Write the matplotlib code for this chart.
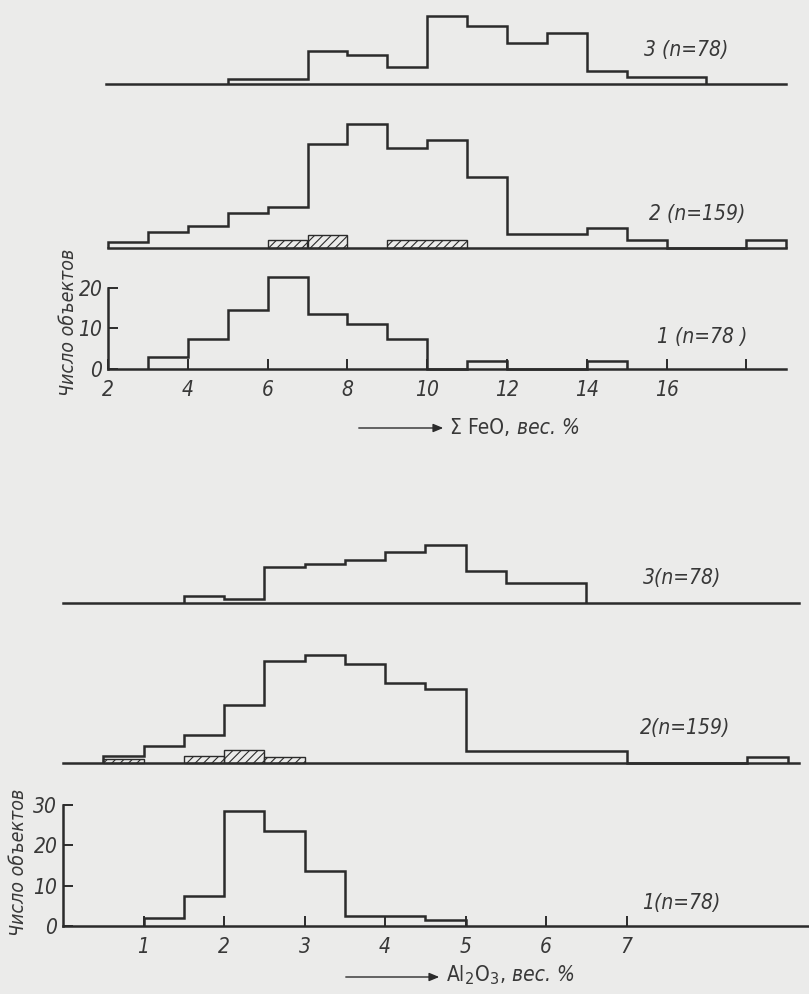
import matplotlib
matplotlib.use("Agg")
import matplotlib.pyplot as plt
from matplotlib import font_manager as fm
from matplotlib.patches import FancyArrowPatch
from matplotlib.text import Annotation

# ---------------- data ----------------
# Sum FeO, wt.%  (bin width 1)
feo_edges_1 = [3, 4, 5, 6, 7, 8, 9, 10, 11, 12, 13, 14, 15]
feo_counts_1 = [3, 7.5, 14.5, 22.5, 13.5, 11, 7.5, 0, 2, 0, 0, 2]

feo_edges_2 = [2, 3, 4, 5, 6, 7, 8, 9, 10, 11, 12, 13, 14, 15, 16, 17, 18, 19]
feo_counts_2 = [1.5, 4, 5.5, 8.5, 10, 25.5, 30.5, 24.5, 26.5, 17.5, 3.5, 3.5, 5, 2, 0, 0, 2]
feo_hatch_left_2 = [6, 7, 9]
feo_hatch_width_2 = [1, 1, 2]
feo_hatch_counts_2 = [2, 3.3, 2]

feo_edges_3 = [5, 6, 7, 8, 9, 10, 11, 12, 13, 14, 15, 16, 17]
feo_counts_3 = [1.2, 1.2, 8, 7, 4, 16.5, 14, 10, 12.5, 3, 1.5, 1.5]

feo_xticks = [2, 4, 6, 8, 10, 12, 14, 16, 18]
feo_xticklabels = ["2", "4", "6", "8", "10", "12", "14", "16", ""]
feo_yticks = [0, 10, 20]

# Al2O3, wt.%  (bin width 0.5)
al_edges_1 = [1, 1.5, 2, 2.5, 3, 3.5, 4, 4.5, 5]
al_counts_1 = [2, 7.5, 28.5, 23.5, 13.5, 2.5, 2.5, 1.5]

al_edges_2 = [0.5, 1, 1.5, 2, 2.5, 3, 3.5, 4, 4.5, 5, 5.5, 6, 6.5, 7, 7.5, 8, 8.5, 9]
al_counts_2 = [1.8, 4.3, 7, 14.6, 25.5, 27, 24.7, 20, 18.6, 3.1, 3.1, 3.1, 3.1, 0, 0, 0, 1.6]
al_hatch_left_2 = [0.5, 1.5, 2, 2.5]
al_hatch_width_2 = [0.5, 0.5, 0.5, 0.5]
al_hatch_counts_2 = [1, 1.8, 3.3, 1.5]

al_edges_3 = [1.5, 2, 2.5, 3, 3.5, 4, 4.5, 5, 5.5, 6, 6.5]
al_counts_3 = [1.7, 0.8, 8.8, 9.7, 10.7, 12.7, 14.3, 8, 5, 5]

al_xticks = [1, 2, 3, 4, 5, 6, 7]
al_xticklabels = ["1", "2", "3", "4", "5", "6", "7"]
al_yticks = [0, 10, 20, 30]

labels_feo = ["1 (n=78 )", "2 (n=159)", "3 (n=78)"]
labels_al = ["1(n=78)", "2(n=159)", "3(n=78)"]
ylabel_text = "Число объектов"


# ---------------- fonts (pick a narrow face if one is installed) ----------------
def pick_font(italic):
    fl = fm.fontManager.ttflist
    want = ("italic", "oblique") if italic else ("normal",)
    for f in fl:
        if f.name == "Liberation Sans Narrow" and f.style in want and f.weight in (400, "normal", "regular"):
            return f.fname
    for f in fl:
        if f.name == "DejaVu Sans" and "Condensed" in f.fname and f.style in want \
                and "Bold" not in f.fname:
            return f.fname
    return None


IT_FILE = pick_font(True)
UP_FILE = pick_font(False)


def fp(size, italic=True):
    fname = IT_FILE if italic else UP_FILE
    if fname:
        return fm.FontProperties(fname=fname, size=size)
    return fm.FontProperties(family="DejaVu Sans",
                             style="oblique" if italic else "normal",
                             size=size - 1.5)


# ---------------- style ----------------
W, H = 809, 994
BG = "#ebebea"
INK = "#2b2b2b"
TXT = "#383838"
LW = 1.8
plt.rcParams["hatch.linewidth"] = 0.8
plt.rcParams["hatch.color"] = INK

fig = plt.figure(figsize=(W / 100, H / 100), dpi=100)
fig.patch.set_facecolor(BG)


def add_ax(x0_px, px_per_unit_x, xlim, base_px, px_per_unit_y, ymax):
    left = x0_px / W
    width = (xlim[1] - xlim[0]) * px_per_unit_x / W
    bottom = 1 - base_px / H
    height = ymax * px_per_unit_y / H
    ax = fig.add_axes([left, bottom, width, height])
    ax.set_xlim(*xlim)
    ax.set_ylim(0, ymax)
    ax.set_facecolor("none")
    for s in ax.spines.values():
        s.set_visible(False)
    ax.set_xticks([])
    ax.set_yticks([])
    return ax


def draw_hist(ax, edges, counts):
    ax.stairs(counts, edges, baseline=0, fill=False, color=INK, lw=LW,
              clip_on=False)


def draw_hatch(ax, lefts, widths, counts):
    ax.bar(lefts, counts, width=widths, align="edge", fill=False,
           edgecolor=INK, hatch="////", lw=1.0, clip_on=False)


def style_axis(ax, xticks, xlabels, yticks, ytop):
    for sp in ("left", "bottom"):
        ax.spines[sp].set_visible(True)
        ax.spines[sp].set_color(INK)
        ax.spines[sp].set_linewidth(LW)
    ax.spines["left"].set_bounds(0, ytop)
    ax.set_xticks(xticks)
    ax.set_xticklabels(xlabels)
    ax.set_yticks(yticks)
    ax.tick_params(axis="both", direction="in", length=7, width=1.4,
                   color=INK, labelcolor=TXT)
    ax.tick_params(axis="x", pad=8)
    ax.tick_params(axis="y", pad=4)
    for t in ax.get_xticklabels() + ax.get_yticklabels():
        t.set_fontproperties(fp(15))


def fx(px):
    return px / W


def fy(py):
    return 1 - py / H


def ftext(x, y, s, size=15, italic=True, **kw):
    return fig.text(fx(x), fy(y), s, fontproperties=fp(size, italic),
                    color=TXT, **kw)


# ---------------- FeO block ----------------
FE_X0, FE_PX = 108, 39.9
FE_PY = 4.08
fe_xlim = (2, 19)

ax_f3 = add_ax(FE_X0, FE_PX, fe_xlim, 83.5, FE_PY, 18)
ax_f3.plot([1.95, 19], [0, 0], color=INK, lw=LW, clip_on=False)
draw_hist(ax_f3, feo_edges_3, feo_counts_3)

ax_f2 = add_ax(FE_X0, FE_PX, fe_xlim, 248, FE_PY, 32)
ax_f2.plot([2, 19], [0, 0], color=INK, lw=LW, clip_on=False)
draw_hist(ax_f2, feo_edges_2, feo_counts_2)
draw_hatch(ax_f2, feo_hatch_left_2, feo_hatch_width_2, feo_hatch_counts_2)

ax_f1 = add_ax(FE_X0, FE_PX, fe_xlim, 369.3, FE_PY, 25)
draw_hist(ax_f1, feo_edges_1, feo_counts_1)
style_axis(ax_f1, feo_xticks, feo_xticklabels, feo_yticks, 20)

# ---------------- Al2O3 block ----------------
AL_X0, AL_PX = 63, 80.5
AL_PY = 4.02
al_xlim = (0, 9.27)

ax_a3 = add_ax(AL_X0, AL_PX, al_xlim, 602.7, AL_PY, 16)
ax_a3.plot([0, 9.14], [0, 0], color=INK, lw=LW, clip_on=False)
draw_hist(ax_a3, al_edges_3, al_counts_3)

ax_a2 = add_ax(AL_X0, AL_PX, al_xlim, 763.3, AL_PY, 28)
ax_a2.plot([0, 9.14], [0, 0], color=INK, lw=LW, clip_on=False)
draw_hist(ax_a2, al_edges_2, al_counts_2)
draw_hatch(ax_a2, al_hatch_left_2, al_hatch_width_2, al_hatch_counts_2)

ax_a1 = add_ax(AL_X0, AL_PX, al_xlim, 925.7, AL_PY, 32)
draw_hist(ax_a1, al_edges_1, al_counts_1)
style_axis(ax_a1, al_xticks, al_xticklabels, al_yticks, 30)

# ---------------- texts ----------------
ftext(686, 50, labels_feo[2], ha="center", va="center")
ftext(697, 214, labels_feo[1], ha="center", va="center")
ftext(702, 337, labels_feo[0], ha="center", va="center")

ftext(682, 578, labels_al[2], ha="center", va="center")
ftext(685, 728, labels_al[1], ha="center", va="center")
ftext(681, 903, labels_al[0], ha="center", va="center")

ftext(68, 322, ylabel_text, size=14, rotation=90, ha="center", va="center")
ftext(19, 862, ylabel_text, size=14, rotation=90, ha="center", va="center")

# x-axis captions with arrows
fig.add_artist(FancyArrowPatch(
    (fx(356), fy(428)), (fx(446), fy(428)), transform=fig.transFigure,
    arrowstyle="-|>,head_length=6,head_width=2.5", lw=1.0, color=INK))
t1 = ftext(450, 428, "Σ FeO,", size=15, italic=False, ha="left", va="center")
fig.add_artist(Annotation(
    "вес. %", xy=(1, 0.5), xycoords=t1, xytext=(5, 0),
    textcoords="offset points", va="center", ha="left",
    fontproperties=fp(15), color=TXT))

fig.add_artist(FancyArrowPatch(
    (fx(343), fy(977)), (fx(442), fy(977)), transform=fig.transFigure,
    arrowstyle="-|>,head_length=6,head_width=2.5", lw=1.0, color=INK))
t2 = ftext(446, 975, r"Al$_2$O$_3$,", size=15, italic=False, ha="left", va="center")
fig.add_artist(Annotation(
    "вес. %", xy=(1, 0.5), xycoords=t2, xytext=(5, 0),
    textcoords="offset points", va="center", ha="left",
    fontproperties=fp(15), color=TXT))

fig.savefig("out.png", dpi=100, facecolor=BG)
